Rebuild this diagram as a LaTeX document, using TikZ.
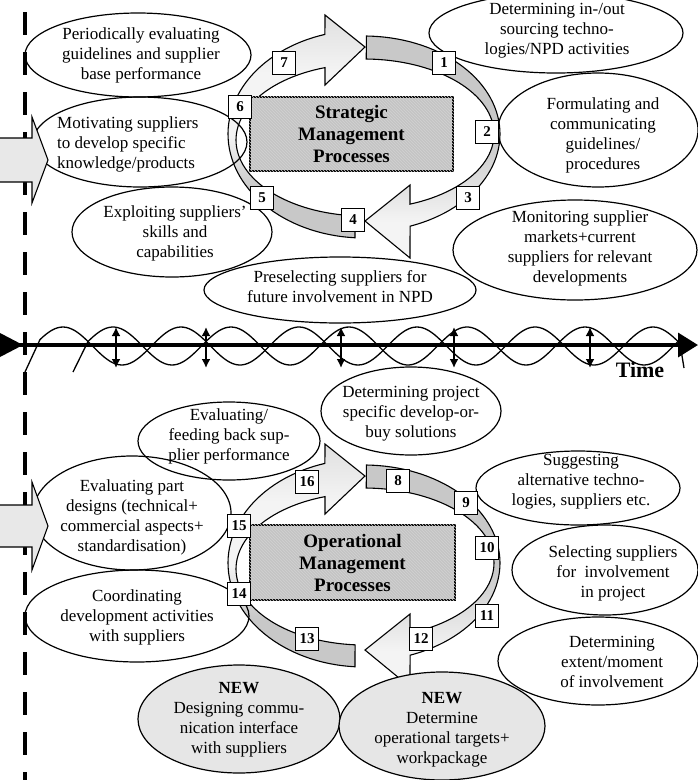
\documentclass[tikz,border=0pt]{standalone}
\usepackage{fontspec}
\setmainfont{Liberation Serif}
\usetikzlibrary{shapes.geometric,arrows.meta,patterns}

\definecolor{bandgray}{HTML}{C8C8C8}
\definecolor{bandlight}{HTML}{F4F4F4}
\definecolor{headgray}{HTML}{E0E0E0}
\definecolor{boxgray}{HTML}{C4C4C4}
\definecolor{boxstripe}{HTML}{D2D2D2}
\definecolor{newgray}{HTML}{E6E6E6}
\definecolor{inarrow}{HTML}{E8E8E8}

% shadings of the two halves of a process ring
\pgfdeclareverticalshading{rightband}{100bp}{color(0bp)=(bandlight); color(33bp)=(bandlight); color(52bp)=(bandgray); color(100bp)=(bandgray)}
\pgfdeclareverticalshading{leftband}{100bp}{color(0bp)=(bandgray); color(36bp)=(bandgray); color(48bp)=(bandlight); color(62bp)=(bandlight); color(75bp)=(headgray); color(100bp)=(headgray)}

% one process ring: two curved block arrows chasing each other
\newcommand{\processring}{%
  \path[shade, shading=rightband, draw=black, line width=1.1pt]
    plot[domain=271:430.2, samples=60, variable=\t] ({364+136*cos(\t)},{134+98*sin(\t)})
    -- (410,258) -- (365,221) -- (410,185)
    -- plot[domain=429.3:271, samples=60, variable=\t] ({364+130*cos(\t)},{134+75*sin(\t)})
    -- cycle;
  \path[shade, shading=leftband, draw=black, line width=1.1pt]
    plot[domain=93.8:253.3, samples=60, variable=\t] ({364+136*cos(\t)},{134+104*sin(\t)})
    -- (325,15) -- (365,47) -- (325,85)
    -- plot[domain=252.26:94, samples=60, variable=\t] ({364+128*cos(\t)},{140+76*sin(\t)})
    -- cycle;
}

\begin{document}
\begin{tikzpicture}[x=1pt,y=-1pt,
  bub/.style={draw, ellipse, line width=1.2pt, inner sep=0pt},
  newbub/.style={bub, fill=newgray},
  txt/.style={align=center, inner sep=0pt, font=\fontsize{17}{20}\selectfont},
  num/.style={draw, line width=1.3pt, fill=white, minimum size=22.5pt, inner sep=0pt,
              font=\fontsize{15}{15}\selectfont\bfseries},
  corebox/.style={draw, line width=1.2pt, fill=boxgray, inner sep=0pt, align=center,
                  font=\fontsize{19}{22}\selectfont\bfseries},
  stripes/.style={pattern=north west lines, pattern color=boxstripe},
  wave/.style={line width=1.3pt},
  dbl/.style={line width=1.8pt, {Latex[length=9pt,width=9pt]}-{Latex[length=9pt,width=9pt]}},
  inflow/.style={draw, line width=1.1pt, fill=inarrow}
]
\useasboundingbox (0,0) rectangle (698,780);

% dashed boundary on the left
\coordinate (dtop) at (25,12);
\coordinate (dbot) at (25,780);
\draw[line width=4.6pt, dash pattern=on 23pt off 17pt] (dtop) -- (dbot);

% time axis with two interleaved waves (period 118)
\coordinate (t0) at (0,345);
\coordinate (t1) at (698,345);
\draw[line width=3.5pt, -{Triangle[length=20pt,width=24pt]}] (t0) -- (t1);
\fill (0,333) -- (23,345) -- (0,357) -- cycle;
\draw[wave] (25,372) -- plot[domain=40:680, samples=220, variable=\t] ({\t},{346-19*cos((\t-63)*3.050847)}) -- (684,368);
\draw[wave] (73,372) -- plot[domain=88:680, samples=200, variable=\t] ({\t},{346-19*cos((\t-113)*3.050847)});
\foreach \x [count=\i] in {116,206,341,454,590} {
  \coordinate (u\i) at (\x,327);
  \coordinate (d\i) at (\x,368);
  \draw[dbl] (u\i) -- (d\i);
}
\node[font=\fontsize{22}{22}\selectfont\bfseries, inner sep=0pt] (time) at (640,370) {Time};

% strategic and operational rings
\processring
\begin{scope}[shift={(0,429)}]
  \processring
\end{scope}

\node[corebox, minimum width=203pt, minimum height=74pt] (smp) at (351.5,134) {};
\path[stripes] (smp.north west) rectangle (smp.south east);
\node[inner sep=0pt, align=center, font=\fontsize{19}{22}\selectfont\bfseries] (smpt) at (smp) {Strategic\\Management\\Processes};
\node[corebox, minimum width=205pt, minimum height=75pt] (omp) at (352.5,562.5) {};
\path[stripes] (omp.north west) rectangle (omp.south east);
\node[inner sep=0pt, align=center, font=\fontsize{19}{22}\selectfont\bfseries] (ompt) at (omp) {Operational\\Management\\Processes};

% strategic activities
\node[bub, minimum width=226pt, minimum height=84pt] (e1) at (138,55) {};
\node[txt] (t1) at (141,55) {Periodically evaluating\\guidelines and supplier\\base performance};
\node[bub, minimum width=254pt, minimum height=80pt] (e5) at (556,33) {};
\node[txt] (t5) at (557,31) {Determining in-/out\\sourcing techno-\\logies/NPD activities};
\node[bub, minimum width=214pt, minimum height=90pt] (e2) at (140,142) {};
\node[txt, align=left, anchor=west] (t2) at (57,144) {Motivating suppliers\\to develop specific\\knowledge/products};
\node[bub, minimum width=200pt, minimum height=114pt] (e6) at (598,130) {};
\node[txt] (t6) at (603,135) {Formulating and\\communicating\\guidelines/\\procedures};
\node[bub, minimum width=200pt, minimum height=90pt] (e3) at (172,232) {};
\node[txt] (t3) at (175,233) {Exploiting suppliers'\\skills and\\capabilities};
\node[bub, minimum width=244pt, minimum height=100pt] (e7) at (575,250) {};
\node[txt] (t7) at (580,248) {Monitoring supplier\\markets+current\\suppliers for relevant\\developments};
\node[bub, minimum width=272pt, minimum height=66pt] (e4) at (340,290) {};
\node[txt] (t4) at (340,287) {Preselecting suppliers for\\future involvement in NPD};

% operational activities
\node[bub, minimum width=182pt, minimum height=78pt] (e8) at (229,441) {};
\node[txt] (t8) at (229,436) {Evaluating/\\feeding back sup-\\plier performance};
\node[bub, minimum width=180pt, minimum height=88pt] (e9) at (411,411) {};
\node[txt] (t9) at (411,414) {Determining project\\specific develop-or-\\buy solutions};
\node[bub, minimum width=198pt, minimum height=114pt] (e10) at (132,513) {};
\node[txt] (t10) at (132,517) {Evaluating part\\designs (technical+\\commercial aspects+\\standardisation)};
\node[bub, minimum width=224pt, minimum height=92pt] (e11) at (137,616) {};
\node[txt] (t11) at (137,617) {Coordinating\\development activities\\with suppliers};
\node[bub, minimum width=204pt, minimum height=74pt] (e12) at (578,488) {};
\node[txt] (t12) at (581,482) {Suggesting\\alternative techno-\\logies, suppliers etc.};
\node[bub, minimum width=186pt, minimum height=90pt] (e13) at (605,570) {};
\node[txt] (t13) at (613,573) {Selecting suppliers\\for\ \ involvement\\in project};
\node[bub, minimum width=200pt, minimum height=88pt] (e14) at (598,661) {};
\node[txt] (t14) at (612,662) {Determining\\extent/moment\\of involvement};
\node[newbub, minimum width=202pt, minimum height=108pt] (e15) at (239,719) {};
\node[txt] (t15) at (239,720) {\textbf{NEW}\\Designing commu-\\nication interface\\with suppliers};
\node[newbub, minimum width=206pt, minimum height=108pt] (e16) at (442,726) {};
\node[txt] (t16) at (442,730) {\textbf{NEW}\\Determine\\operational targets+\\workpackage};

% step numbers
\node[num] (n1) at (444,63) {1};
\node[num] (n2) at (487,132) {2};
\node[num] (n3) at (468,198) {3};
\node[num] (n4) at (353,220) {4};
\node[num] (n5) at (262,198) {5};
\node[num] (n6) at (240,107) {6};
\node[num] (n7) at (284,63) {7};
\node[num] (n8) at (398,481) {8};
\node[num] (n9) at (466,503) {9};
\node[num] (n10) at (487,548) {10};
\node[num] (n11) at (487,616) {11};
\node[num] (n12) at (421,639) {12};
\node[num] (n13) at (307,639) {13};
\node[num] (n14) at (239,594) {14};
\node[num] (n15) at (239,526) {15};
\node[num] (n16) at (307,482) {16};

% inflow arrows entering from the left
\path[inflow] (-2,138) -- (32,138) -- (32,117) -- (48,160) -- (32,203) -- (32,182) -- (-2,182) -- cycle;
\path[inflow] (-2,505) -- (32,505) -- (32,482) -- (48,526) -- (32,570) -- (32,547) -- (-2,547) -- cycle;
\end{tikzpicture}
\end{document}
